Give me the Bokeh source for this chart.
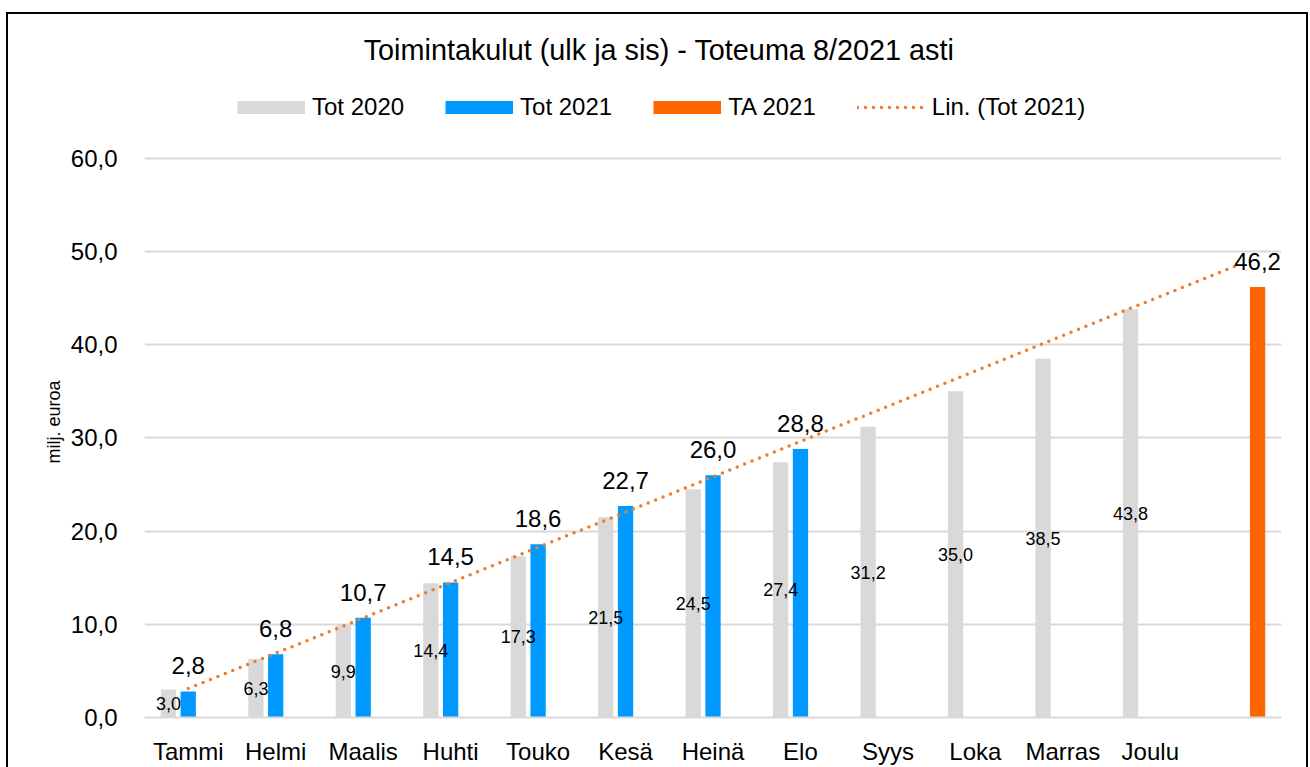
import numpy as np
from bokeh.plotting import figure
from bokeh.layouts import column
from bokeh.models import (ColumnDataSource, FactorRange, Legend, LegendItem, Label,
                          FixedTicker, CustomJSTickFormatter, Range1d)
from bokeh.transform import dodge
from bokeh.core.properties import value
from bokeh.embed import file_html
from bokeh.resources import INLINE

# ---------------- data ----------------
title_text = "Toimintakulut (ulk ja sis) - Toteuma 8/2021 asti"
y_axis_title = "milj. euroa"
months = ["Tammi", "Helmi", "Maalis", "Huhti", "Touko", "Kesä", "Heinä",
          "Elo", "Syys", "Loka", "Marras", "Joulu"]
ta_category = " "
tot_2020 = [3.0, 6.3, 9.9, 14.4, 17.3, 21.5, 24.5, 27.4, 31.2, 35.0, 38.5, 43.8]
tot_2021 = [2.8, 6.8, 10.7, 14.5, 18.6, 22.7, 26.0, 28.8]
ta_2021 = [46.2]
y_ticks = [0, 10, 20, 30, 40, 50, 60]
series_names = ["Tot 2020", "Tot 2021", "TA 2021", "Lin. (Tot 2021)"]

# ---------------- styles ----------------
FONT = "Liberation Sans"
C20 = "#D9D9D9"
C21 = "#0099FF"
CTA = "#FF6600"
CTR = "#ED7D31"
OFF = 0.2264
BW = 0.175
W = 1298
HEAD_H = 130
MAIN_H = 623
NBSP = "\u00a0"

cats = months + [ta_category]


def fmt(v):
    return f"{v:.1f}".replace(".", ",")


src20 = ColumnDataSource(dict(cat=months, val=tot_2020,
                              half=[v / 2 for v in tot_2020],
                              lbl=[fmt(v) for v in tot_2020]))
src21 = ColumnDataSource(dict(cat=months[:len(tot_2021)], val=tot_2021,
                              lbl=[fmt(v) for v in tot_2021]))
srcta = ColumnDataSource(dict(cat=[ta_category], val=ta_2021,
                              lbl=[fmt(v) for v in ta_2021]))

# linear trendline of Tot 2021 (Excel "Lin."), extended over all categories
xi = np.arange(1, len(tot_2021) + 1)
slope, intercept = np.polyfit(xi, np.array(tot_2021), 1)
trend_y = [float(intercept + slope * k) for k in range(1, len(cats) + 1)]

# ---------------- header (title + legend) ----------------
head = figure(width=W, height=HEAD_H, x_range=Range1d(0, 10), y_range=Range1d(0, 10),
              output_backend="svg", toolbar_location=None,
              x_axis_location=None, y_axis_location=None,
              min_border_left=0, min_border_right=0, min_border_top=0,
              min_border_bottom=0, title=None)
head.grid.visible = False
head.outline_line_color = None
head.background_fill_color = "white"
head.border_fill_color = "white"

# (frame of the header is aligned with the main chart's frame)
head.add_layout(Label(x=514.5, y=94.4, x_units="screen", y_units="screen",
                      text=title_text, text_align="center", text_baseline="middle",
                      text_font=FONT, text_font_size="28.8px", text_color="black"))

# legend-only renderers, drawn outside the visible range
hid = dict(x=[-100, -99], y=[-100, -99])
r_l20 = head.line(line_color=C20, line_width=13, **hid)
r_l21 = head.line(line_color=C21, line_width=13, **hid)
r_lta = head.line(line_color=CTA, line_width=13, **hid)
r_ltr = head.line(line_color=CTR, line_width=3.5, line_dash="0 8",
                  line_cap="round", **hid)
legend = Legend(items=[LegendItem(label=series_names[0], renderers=[r_l20]),
                       LegendItem(label=series_names[1], renderers=[r_l21]),
                       LegendItem(label=series_names[2], renderers=[r_lta]),
                       LegendItem(label=series_names[3], renderers=[r_ltr])],
                orientation="horizontal", location=(93, 23.5),
                glyph_width=68, glyph_height=16, label_standoff=7, spacing=41,
                padding=0, margin=0, label_text_font=FONT,
                label_text_font_size="24px", label_text_color="black",
                background_fill_alpha=0, border_line_alpha=0)
head.add_layout(legend)

# ---------------- main chart ----------------
p = figure(x_range=FactorRange(factors=cats), y_range=(0, 60.2),
           width=W, height=MAIN_H, output_backend="svg", toolbar_location=None,
           min_border_left=136, min_border_right=25, min_border_top=12,
           min_border_bottom=49, title=None)
p.outline_line_color = None
p.background_fill_color = "white"
p.border_fill_color = "white"

p.xgrid.visible = False
p.ygrid.grid_line_color = C20
p.ygrid.grid_line_width = 2
p.ygrid.ticker = FixedTicker(ticks=y_ticks)

p.yaxis.ticker = FixedTicker(ticks=y_ticks)
p.yaxis.formatter = CustomJSTickFormatter(code="return tick.toFixed(1).replace('.', ',');")
p.yaxis.axis_line_color = None
p.yaxis.major_tick_line_color = None
p.yaxis.minor_tick_line_color = None
p.yaxis.major_label_standoff = 21
p.yaxis.major_label_text_font = FONT
p.yaxis.major_label_text_font_size = "24px"
p.yaxis.major_label_text_color = "black"
# leading no-break spaces lift the title slightly above the frame centre, as in Excel
p.yaxis.axis_label = NBSP * 6 + y_axis_title
p.yaxis.axis_label_text_font = FONT
p.yaxis.axis_label_text_font_size = "18px"
p.yaxis.axis_label_text_font_style = "normal"
p.yaxis.axis_label_text_color = "black"
p.yaxis.axis_label_standoff = 4

p.xaxis.axis_line_color = C20
p.xaxis.axis_line_width = 2
p.xaxis.major_tick_line_color = None
p.xaxis.minor_tick_line_color = None
p.xaxis.major_label_standoff = 14
p.xaxis.major_label_text_font = FONT
p.xaxis.major_label_text_font_size = "24px"
p.xaxis.major_label_text_color = "black"

# bars
p.vbar(x=dodge("cat", -OFF, range=p.x_range), top="val", width=BW, source=src20,
       fill_color=C20, line_color=None)
p.vbar(x=dodge("cat", 0, range=p.x_range), top="val", width=BW, source=src21,
       fill_color=C21, line_color=None)
p.vbar(x=dodge("cat", OFF, range=p.x_range), top="val", width=BW, source=srcta,
       fill_color=CTA, line_color=None)

# trendline
p.line(x=cats, y=trend_y, line_color=CTR, line_width=3.5,
       line_dash="0 8", line_cap="round")

# data labels
p.text(x=dodge("cat", -OFF, range=p.x_range), y="half", text="lbl", source=src20,
       text_align="center", text_baseline="middle", text_font=value(FONT),
       text_font_size="18px", text_color="black")
p.text(x=dodge("cat", 0, range=p.x_range), y="val", text="lbl", source=src21,
       text_align="center", text_baseline="middle", text_font=value(FONT),
       text_font_size="24px", text_color="black", y_offset=-25.5)
p.text(x=dodge("cat", OFF, range=p.x_range), y="val", text="lbl", source=srcta,
       text_align="center", text_baseline="middle", text_font=value(FONT),
       text_font_size="24px", text_color="black", y_offset=-25.5)

layout = column(head, p, spacing=0)
layout.styles = {"border-top": "2px solid black", "border-left": "2px solid black",
                 "border-right": "2px solid black", "margin-top": "12px",
                 "margin-left": "6px"}

open("out.html", "w").write(file_html(layout, INLINE))
